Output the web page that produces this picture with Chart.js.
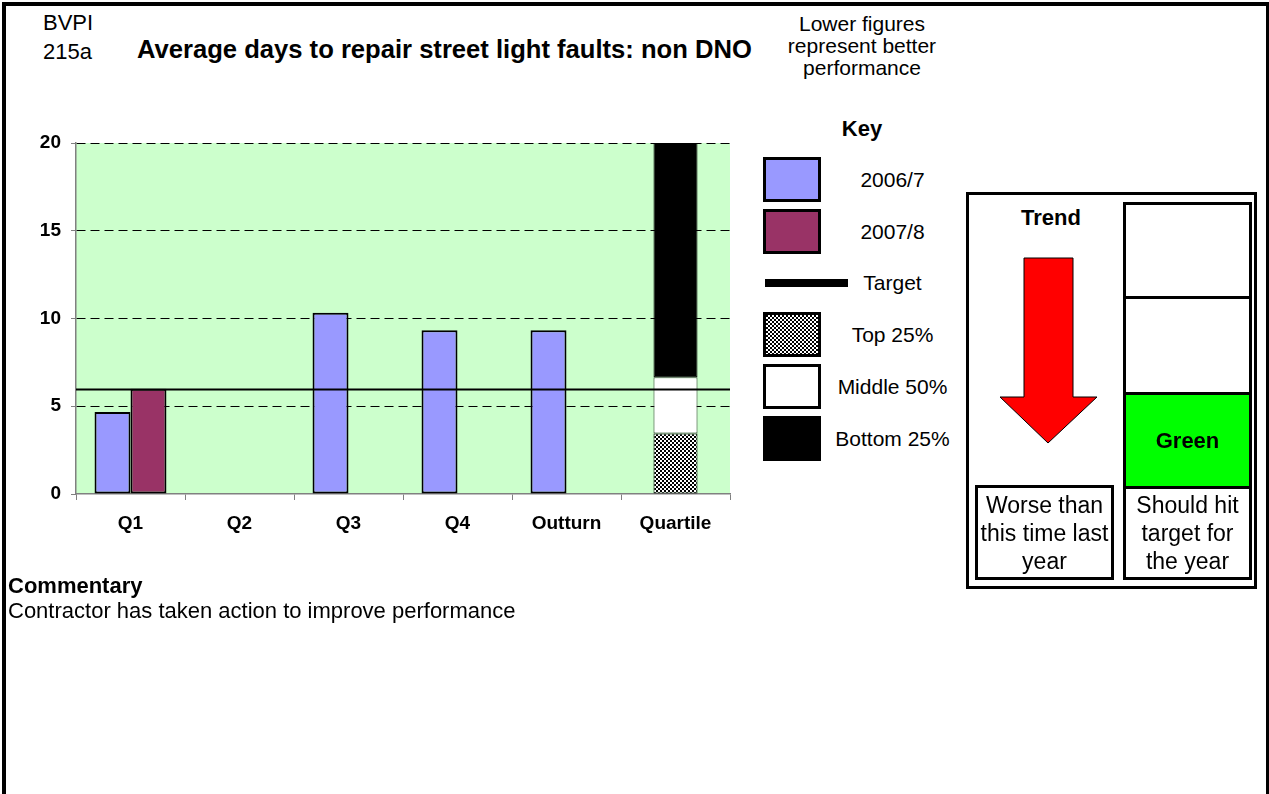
<!DOCTYPE html>
<html>
<head>
<meta charset="utf-8">
<script src="https://cdn.jsdelivr.net/npm/chart.js@4.4.1/dist/chart.umd.min.js"></script>
<style>
  html, body { margin: 0; padding: 0; background: #fff; }
  body { width: 1269px; height: 794px; position: relative; overflow: hidden;
         font-family: "Liberation Sans", Arial, sans-serif; color: #000; }
  .abs { position: absolute; }
  #frame { left: 2px; top: 2px; width: 1260px; height: 800px;
           border: 4px solid #000; border-right-width: 3px; border-bottom: none; }
  .txt { font-size: 22px; line-height: 22px; white-space: nowrap; }
  .bold { font-weight: bold; }
  .center { text-align: center; }
  #chartBox { left: 10px; top: 120px; width: 730px; height: 430px; }
  .swatch { position: absolute; left: 763px; width: 52px; height: 39px; border: 3px solid #000; }
  .legTxt { position: absolute; left: 830px; width: 125px; text-align: center;
            font-size: 21px; line-height: 22px; }
  .box { position: absolute; border: 3px solid #000; box-sizing: border-box; }
  .flexc { display: flex; align-items: center; justify-content: center; text-align: center; }
</style>
</head>
<body>
<div id="frame" class="abs"></div>

<div class="abs txt" style="left:43px; top:12px;">BVPI</div>
<div class="abs txt" style="left:43px; top:41px;">215a</div>
<div class="abs txt bold" style="left:137px; top:37px; font-size:25.6px; line-height:25px;">Average days to repair street light faults: non DNO</div>
<div class="abs txt center" style="left:762px; top:13px; width:200px; font-size:21px; line-height:22px;">Lower figures<br>represent better<br>performance</div>

<div class="abs txt bold center" style="left:812px; top:118px; width:100px;">Key</div>
<div id="legend"></div>

<div id="chartBox" class="abs"><canvas id="chart"></canvas></div>

<!-- trend / status panel -->
<div class="box" style="left:966px; top:192px; width:291px; height:397px;"></div>
<div class="abs txt bold center" style="left:990px; top:207px; width:122px;">Trend</div>
<svg class="abs" style="left:0; top:0;" width="1269" height="794">
  <polygon points="1024,258 1073,258 1073,397 1097,397 1048,443 1000,397 1024,397"
           fill="#ff0000" stroke="#000" stroke-width="1"/>
</svg>
<div class="box flexc" style="left:975px; top:485px; width:139px; height:95px; font-size:23px; line-height:28px;">Worse than<br>this time last<br>year</div>
<div class="box" style="left:1123px; top:202px; width:129px; height:97px;"></div>
<div class="box" style="left:1123px; top:296px; width:129px; height:99px;"></div>
<div class="box flexc bold" style="left:1123px; top:392px; width:129px; height:97px; background:#00ff00; font-size:22px;">Green</div>
<div class="box flexc" style="left:1123px; top:486px; width:129px; height:94px; font-size:23px; line-height:28px;">Should hit<br>target for<br>the year</div>

<div class="abs txt bold" style="left:8px; top:575px;">Commentary</div>
<div class="abs txt" style="left:8px; top:600px;">Contractor has taken action to improve performance</div>

<script>
/* ── data ─────────────────────────────────────────── */
const categories     = ['Q1', 'Q2', 'Q3', 'Q4', 'Outturn', 'Quartile'];
const series2006     = [4.67, null, 10.33, 9.33, 9.33, null];
const series2007     = [6.0, null, null, null, null, null];
const targetValue    = 6;
const quartileTop    = [null, null, null, null, null, 3.45];
const quartileMiddle = [null, null, null, null, null, 3.2];
const quartileBottom = [null, null, null, null, null, 13.35];
const yTicks         = [0, 5, 10, 15, 20];

/* ── checker pattern for the top quartile ─────────── */
function checkerCanvas() {
  const c = document.createElement('canvas');
  c.width = 4; c.height = 4;
  const g = c.getContext('2d');
  g.fillStyle = '#fff'; g.fillRect(0, 0, 4, 4);
  g.fillStyle = '#000'; g.fillRect(0, 0, 2, 2); g.fillRect(2, 2, 2, 2);
  return c;
}
const checker = checkerCanvas();
const ctx = document.getElementById('chart').getContext('2d');
const checkerFill = ctx.createPattern(checker, 'repeat');

/* ── plugins ──────────────────────────────────────── */
const plotBg = {
  id: 'plotBg',
  beforeDraw(chart) {
    const { ctx, chartArea: a } = chart;
    ctx.save();
    ctx.fillStyle = '#ccffcc';
    ctx.fillRect(a.left, a.top, a.right - a.left, a.bottom - a.top);
    ctx.restore();
  }
};

const targetLine = {
  id: 'targetLine',
  afterDatasetsDraw(chart) {
    const { ctx, chartArea: a, scales: { y } } = chart;
    const py = Math.round(y.getPixelForValue(targetValue)) + 0.5;
    ctx.save();
    ctx.strokeStyle = '#000';
    ctx.lineWidth = 2;
    ctx.beginPath();
    ctx.moveTo(a.left, py);
    ctx.lineTo(a.right, py);
    ctx.stroke();
    ctx.restore();
  }
};

/* ── chart ────────────────────────────────────────── */
const barBase = { borderColor: '#000', borderWidth: 2, borderSkipped: false,
                  barPercentage: 1, categoryPercentage: 0.66 };
// quartile bar sits on its own, centred in its category
const quartBase = { borderColor: '#000', borderWidth: 1, borderSkipped: false, grouped: false,
                    barPercentage: 1, categoryPercentage: 0.404, stack: 'quartile' };

const chart = new Chart(ctx, {
  type: 'bar',
  data: {
    labels: categories,
    datasets: [
      { ...barBase, label: '2006/7', data: series2006, backgroundColor: '#9999ff' },
      { ...barBase, label: '2007/8', data: series2007, backgroundColor: '#993366' },
      { ...quartBase, label: 'Top 25%', data: quartileTop, backgroundColor: checkerFill },
      { ...quartBase, label: 'Middle 50%', data: quartileMiddle, backgroundColor: '#ffffff', borderColor: '#333' },
      { ...quartBase, label: 'Bottom 25%', data: quartileBottom, backgroundColor: '#000000' }
    ]
  },
  options: {
    responsive: true,
    maintainAspectRatio: false,
    animation: false,
    layout: { padding: { top: 23, right: 10, left: 0, bottom: 0 } },
    plugins: { legend: { display: false }, tooltip: { enabled: false }, title: { display: false } },
    scales: {
      x: {
        offset: true,
        grid: { offset: true, drawOnChartArea: false, tickLength: 6, tickColor: '#808080', tickWidth: 1 },
        border: { color: '#808080', width: 1.5 },
        ticks: { color: '#000', font: { family: 'Liberation Sans', size: 19, weight: 'bold' }, padding: 12 },
        afterFit: s => { s.height = 56; }
      },
      y: {
        min: 0, max: 20,
        afterBuildTicks: s => { s.ticks = yTicks.map(v => ({ value: v })); },
        grid: {
          color: c => c.tick && c.tick.value === 0 ? 'rgba(0,0,0,0)' : '#000',
          lineWidth: 1, drawTicks: true, tickLength: 5, tickColor: '#808080', tickBorderDash: []
        },
        border: { color: '#808080', width: 1.5, dash: [9, 5] },
        ticks: { color: '#000', font: { family: 'Liberation Sans', size: 19, weight: 'bold' }, padding: 10 },
        afterFit: s => { s.width = 66; }
      }
    }
  },
  plugins: [plotBg, targetLine]
});

/* ── legend (built from the chart's datasets) ─────── */
const legendRows = [
  { ds: chart.data.datasets[0] },
  { ds: chart.data.datasets[1] },
  { label: 'Target', line: true },
  { ds: chart.data.datasets[2], pattern: true },
  { ds: chart.data.datasets[3] },
  { ds: chart.data.datasets[4], noBorder: true }
];
const legend = document.getElementById('legend');
const rowTop = 157, rowPitch = 51.7;
legendRows.forEach((r, i) => {
  const top = rowTop + rowPitch * i;
  if (r.line) {
    const ln = document.createElement('div');
    ln.className = 'abs';
    ln.style.cssText = `left:765px; top:${top + 19}px; width:83px; height:8px; background:#000;`;
    legend.appendChild(ln);
  } else {
    const sw = document.createElement('div');
    sw.className = 'swatch';
    sw.style.top = top + 'px';
    if (r.pattern) sw.style.backgroundImage = `url(${checker.toDataURL()})`;
    else sw.style.background = r.ds.backgroundColor;
    if (r.noBorder) sw.style.borderColor = r.ds.backgroundColor;
    legend.appendChild(sw);
  }
  const t = document.createElement('div');
  t.className = 'legTxt';
  t.style.top = (top + 12) + 'px';
  t.textContent = r.line ? r.label : r.ds.label;
  legend.appendChild(t);
});
</script>
</body>
</html>
